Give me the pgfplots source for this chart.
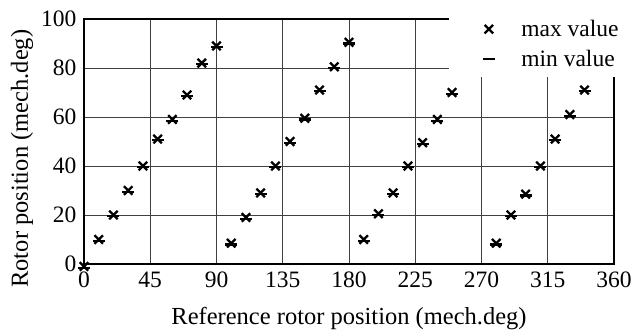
\documentclass[border=0pt]{standalone}
\usepackage{fontspec}
\setmainfont{Liberation Serif}
\usepackage{pgfplots}
\usepackage{pgfplotstable}
\pgfplotsset{compat=1.18}
\usetikzlibrary{calc}
\pgfplotstableread{
x ymax ymin
0 -1 -1.5
10 10 9.5
20 20 19.5
30 30 29.5
40 40 39.5
50 51 50.5
60 59 58.5
70 69 68.5
80 82 81.5
90 89 88.5
100 8.5 8
110 19 18.5
120 29 28.5
130 40 39.5
140 50 49.5
150 59.5 59
160 71 70.5
170 80.5 80
180 90.5 90
190 10 9.5
200 20.5 20
210 29 28.5
220 40 39.5
230 49.5 49
240 59 58.5
250 70 69.5
280 8.5 8
290 20 19.5
300 28.5 28
310 40 39.5
320 51 50.5
330 61 60.5
340 71 70.5
}\data
\begin{document}
\begin{tikzpicture}
\begin{axis}[
  scale only axis, width=530pt, height=245pt,
  xmin=0, xmax=360, ymin=0, ymax=100,
  xtick={0,45,...,360}, ytick={0,20,...,100},
  grid=major, grid style={black!75, line width=0.7pt},
  axis line style={line width=1.2pt},
  major tick length=0pt,
  /pgf/number format/assume math mode=true,
  tick label style={font=\fontsize{23.5}{25}\selectfont},
  xticklabel style={yshift=-4pt},
  yticklabel style={xshift=-4pt},
  label style={font=\fontsize{24.5}{28}\selectfont},
  xlabel={Reference rotor position (mech.deg)},
  xlabel style={at={(axis description cs:0.5,-0.224)}, anchor=center},
  ylabel={Rotor position (mech.deg)},
  ylabel style={at={(axis description cs:-0.117,0.43)}, anchor=center, rotate=0},
  clip=false,
  legend style={at={(axis description cs:0.689,0.763)}, anchor=south west,
    draw=none, fill=white, font=\fontsize{23.5}{26}\selectfont,
    inner xsep=33.5pt, inner ysep=7pt, row sep=8pt,
    /tikz/every odd column/.append style={column sep=24.5pt}},
  legend cell align=left,
]
\addplot[only marks, mark=x, mark size=6pt, line width=2.3pt, black] table[x=x, y=ymax] {\data};
\addlegendentry{max value}
\addplot[only marks, mark=-, mark size=6pt, line width=2.3pt, black] table[x=x, y=ymin] {\data};
\addlegendentry{min value}
\end{axis}
\pgfresetboundingbox
\path[use as bounding box] ($(current axis.south west)+(-84pt,-70pt)$) rectangle ($(current axis.north east)+(20pt,19pt)$);
\end{tikzpicture}
\end{document}
